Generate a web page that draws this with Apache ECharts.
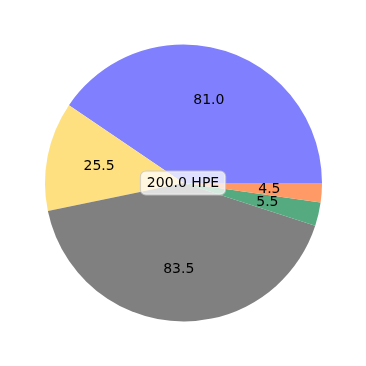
<!DOCTYPE html>
<html><head><meta charset="utf-8">
<script src="https://cdn.jsdelivr.net/npm/echarts@6/dist/echarts.min.js"></script>
<style>html,body{margin:0;padding:0;background:#fff}#c{width:366px;height:366px}</style>
</head><body><div id="c"></div>
<script>
const categories = ['A', 'B', 'C', 'D', 'E'];
const values = [81.0, 25.5, 83.5, 5.5, 4.5];
const colors = ['#8080ff', '#ffe080', '#808080', '#55aa80', '#ff9966'];
const unit = 'HPE';

const total = values.reduce((a, b) => a + b, 0);
const chart = echarts.init(document.getElementById('c'));
const R = 138.5;
chart.setOption({
  animation: false,
  series: [
    {
      type: 'pie', center: [183.5, 183], radius: [0, R],
      startAngle: 0, clockwise: false, silent: true,
      label: { show: false }, labelLine: { show: false },
      data: categories.map((n, i) => ({ name: n, value: values[i], itemStyle: { color: colors[i] } }))
    },
    {
      type: 'pie', center: [183.5, 183], radius: [0, R * 1.2],
      startAngle: 0, clockwise: false, silent: true, z: 3,
      avoidLabelOverlap: false,
      labelLayout: { hideOverlap: false },
      itemStyle: { color: 'transparent' },
      label: { show: true, position: 'inside', color: '#000', fontSize: 14,
        fontFamily: 'DejaVu Sans', formatter: p => p.value.toFixed(1) },
      labelLine: { show: false },
      data: categories.map((n, i) => ({ name: n, value: values[i] }))
    }
  ],
  graphic: [{
    type: 'text', left: 'center', top: 'middle', z: 10,
    style: {
      text: total.toFixed(1) + ' ' + unit, font: '14px "DejaVu Sans"', fill: '#000',
      backgroundColor: 'rgba(255,255,255,0.75)', borderColor: 'rgba(200,200,200,0.8)', borderWidth: 1,
      borderRadius: 5, padding: [5, 6, 4, 6]
    }
  }]
});
</script></body></html>
